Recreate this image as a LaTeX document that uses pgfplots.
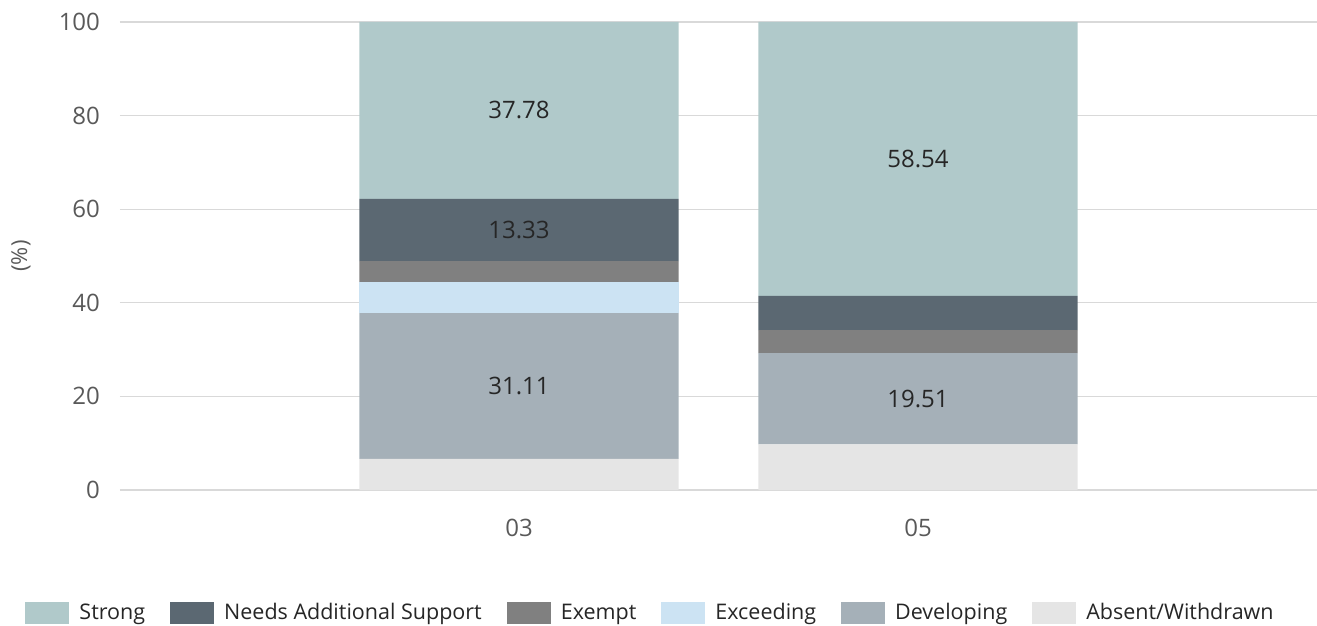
\documentclass[border=0pt]{standalone}
\usepackage{pgfplots}
\pgfplotsset{compat=1.18}
\usepackage{fontspec}
\setmainfont{Open Sans}
\definecolor{cStrong}{HTML}{B0C9CA}
\definecolor{cNeeds}{HTML}{5B6872}
\definecolor{cExempt}{HTML}{808080}
\definecolor{cExceed}{HTML}{CCE3F3}
\definecolor{cDevel}{HTML}{A5B0B8}
\definecolor{cAbsent}{HTML}{E5E5E5}
\definecolor{cTick}{HTML}{595959}
\definecolor{cGrid}{HTML}{D9D9D9}
\begin{document}
\begin{tikzpicture}
\begin{axis}[
  at={(0,0)}, anchor=south west,
  scale only axis, width=598.5pt, height=234pt,
  ybar stacked, bar width=0.8,
  xmin=-1, xmax=2, ymin=0, ymax=100,
  xtick={0,1}, xticklabels={03,05},
  ytick={0,20,40,60,80,100},
  axis line style={draw=none},
  ymajorgrids, grid style={cGrid, line width=0.6pt},
  major tick length=0pt,
  tick label style={font=\fontsize{12}{14}\selectfont, text=cTick},
  /pgf/number format/assume math mode=true,
  yticklabel style={anchor=east, xshift=-6.5pt},
  xticklabel style={anchor=north, yshift=-11pt},
  ylabel={(\%)},
  ylabel style={at={(axis description cs:-0.0827,0.5)}, anchor=center, font=\fontsize{11}{13}\selectfont, text=cTick},
  legend columns=-1,
  legend style={at={(axis description cs:-0.0843,-0.2628)}, anchor=west, draw=none,
    font=\fontsize{10.75}{12}\selectfont, text=black!85,
    nodes={inner sep=0pt},
    /tikz/every odd column/.append style={column sep=5pt},
    /tikz/every even column/.append style={column sep=12.5pt}},
  legend image code/.code={\fill[#1, draw=none] (0pt,-5.5pt) rectangle (22pt,5.5pt);},
]
\addplot+[draw=none, fill=cAbsent, forget plot] coordinates {(0,6.67) (1,9.76)};
\addplot+[draw=none, fill=cDevel, forget plot] coordinates {(0,31.11) (1,19.51)};
\addplot+[draw=none, fill=cExceed, forget plot] coordinates {(0,6.67) (1,0)};
\addplot+[draw=none, fill=cExempt, forget plot] coordinates {(0,4.44) (1,4.88)};
\addplot+[draw=none, fill=cNeeds, forget plot] coordinates {(0,13.33) (1,7.32)};
\addplot+[draw=none, fill=cStrong, forget plot] coordinates {(0,37.78) (1,58.54)};
% legend entries in display order
\addlegendimage{fill=cStrong}\addlegendentry{Strong}
\addlegendimage{fill=cNeeds}\addlegendentry{Needs Additional Support}
\addlegendimage{fill=cExempt}\addlegendentry{Exempt}
\addlegendimage{fill=cExceed}\addlegendentry{Exceeding}
\addlegendimage{fill=cDevel}\addlegendentry{Developing}
\addlegendimage{fill=cAbsent}\addlegendentry{Absent/Withdrawn}
\end{axis}
% value labels at segment midpoints
\begin{axis}[
  at={(0,0)}, anchor=south west,
  scale only axis, width=598.5pt, height=234pt,
  xmin=-1, xmax=2, ymin=0, ymax=100,
  hide axis, clip=false,
  every node near coord/.append style={anchor=center, font=\fontsize{12}{14}\selectfont, text=black!85},
]
\addplot[draw=none, mark=none, nodes near coords, point meta=explicit symbolic]
  coordinates {(0,22.225) [31.11] (0,55.555) [13.33] (0,81.11) [37.78]
               (1,19.515) [19.51] (1,70.73) [58.54]};
\end{axis}
\pgfresetboundingbox
\path[use as bounding box] (-60pt,-68pt) rectangle (598.5pt,245pt);
\end{tikzpicture}
\end{document}
